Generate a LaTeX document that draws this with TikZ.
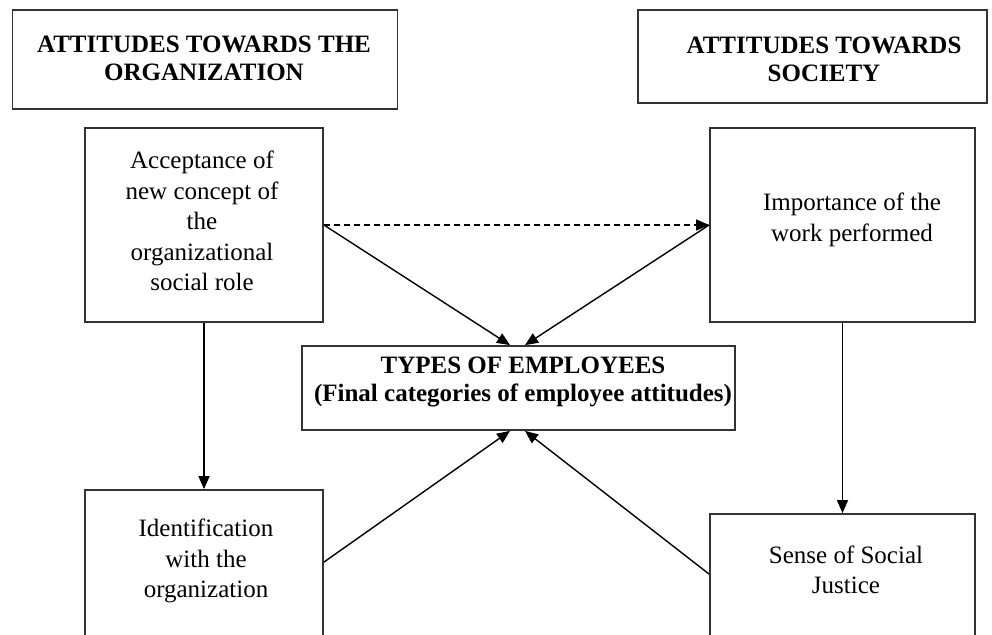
\documentclass[tikz,border=0pt]{standalone}
\usepackage{fontspec}
\setmainfont{Liberation Serif}
\usetikzlibrary{arrows.meta,calc}
\begin{document}
\begin{tikzpicture}[x=1pt,y=-1pt,
  frame/.style={draw=black!80, line width=1.8pt, inner sep=0pt},
  plain/.style={align=center, inner sep=0pt, font=\fontsize{25}{30.5}\selectfont},
  heading/.style={align=center, inner sep=0pt, font=\fontsize{25}{28}\selectfont\bfseries},
  conn/.style={line width=1.4pt, -{Triangle[length=13pt,width=11pt]}},
  dconn/.style={conn, dashed, dash pattern=on 6pt off 4pt}]
\clip (0,0) rectangle (992,634);
\fill[white] (0,0) rectangle (992,634);
% boxes
\node[frame, minimum width=385pt, minimum height=99pt] (org) at (205,59.5) {};
\node[frame, minimum width=349pt, minimum height=93pt] (soc) at (812.5,56.5) {};
\node[frame, minimum width=238pt, minimum height=194pt] (acc) at (204,225) {};
\node[frame, minimum width=265pt, minimum height=194pt] (imp) at (842.5,225) {};
\node[frame, minimum width=433pt, minimum height=84pt] (typ) at (518.5,388) {};
\node[frame, minimum width=238pt, minimum height=160pt] (ide) at (204,570) {};
\node[frame, minimum width=265pt, minimum height=150pt] (sen) at (842.5,589) {};
% texts
\node[heading] (orgT) at (204,58) {ATTITUDES TOWARDS THE\\ORGANIZATION};
\node[heading] (socT) at (824,59) {ATTITUDES TOWARDS\\SOCIETY};
\node[plain] (accT) at (202,221) {Acceptance of\\new concept of\\the\\organizational\\social role};
\node[plain] (impT) at (852,220) {Importance of the\\work performed};
\node[heading] (typT) at (523,382) {TYPES OF EMPLOYEES\\(Final categories of employee attitudes)};
\node[plain] (ideT) at (206,561) {Identification\\with the\\organization};
\node[plain] (senT) at (846,570) {Sense of Social\\Justice};
% connectors
\draw[dconn] (acc.east) -- (imp.west);
\draw[conn] (acc.east) -- ($(typ.north)+(-8.5,0)$);
\draw[conn] (imp.west) -- ($(typ.north)+(6.5,0)$);
\draw[conn] (acc.south) -- (ide.north);
\draw[conn] (imp.south) -- (sen.north);
\draw[conn] ($(ide.north east)+(0,73)$) -- ($(typ.south)+(-8.5,0)$);
\draw[conn] ($(sen.north west)+(0,61)$) -- ($(typ.south)+(6.5,0)$);
\end{tikzpicture}
\end{document}
